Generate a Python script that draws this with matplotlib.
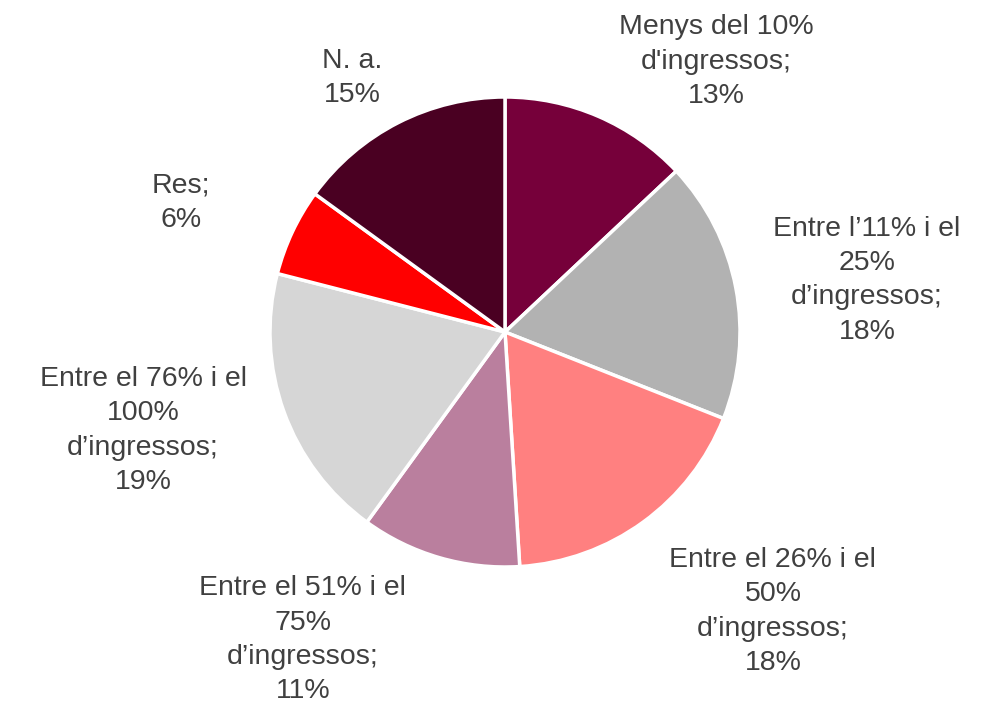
import numpy as np
import matplotlib
matplotlib.use("Agg")
import matplotlib.pyplot as plt

# Data: income share spent, clockwise from 12 o'clock
labels = [
    "Menys del 10%\nd'ingressos",
    "Entre l\u201911% i el\n25%\nd\u2019ingressos",
    "Entre el 26% i el\n50%\nd\u2019ingressos",
    "Entre el 51% i el\n75%\nd\u2019ingressos",
    "Entre el 76% i el\n100%\nd\u2019ingressos",
    "Res",
    "N. a.",
]
values = [13, 18, 18, 11, 19, 6, 15]
colors = ["#76003A", "#B2B2B2", "#FF8080", "#BA7F9E", "#D6D6D6", "#FF0000", "#4A0022"]

# label offsets relative to pie center, in radius units (x, y)
label_pos = [(0.90, 1.15), (1.54, 0.22), (1.14, -1.19), (-0.86, -1.31),
             (-1.54, -0.42), (-1.38, 0.55), (-0.65, 1.08)]

plt.rcParams["font.family"] = ["Liberation Sans", "DejaVu Sans"]

fig = plt.figure(figsize=(9.89, 7.13), dpi=100)
ax = fig.add_axes([0, 0, 1, 1])

cx, cy, r = 505, 713 - 332, 235
ax.pie(values, colors=colors, startangle=90, counterclock=False,
       center=(cx, cy), radius=r, frame=True,
       wedgeprops=dict(edgecolor="white", linewidth=2.5))
ax.set_xlim(0, 989)
ax.set_ylim(0, 713)
ax.set_aspect("equal")
ax.axis("off")

for lab, v, (fx, fy) in zip(labels, values, label_pos):
    sep = "\n" if lab == "N. a." else ";\n"
    ax.text(cx + fx * r, cy + fy * r, f"{lab}{sep}{v}%", ha="center", va="center",
            fontsize=20.5, color="#404040", linespacing=1.42)

plt.savefig("out.png", dpi=100)
